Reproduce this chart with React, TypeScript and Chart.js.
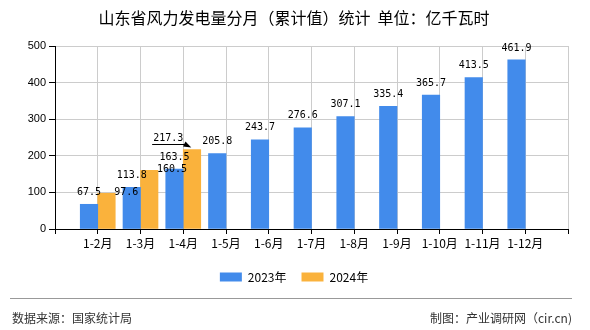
import React, { useEffect, useRef } from "react";
import { Chart, registerables } from "chart.js";

Chart.register(...registerables);

const titleText = "山东省风力发电量分月（累计值）统计  单位：亿千瓦时";
const sourceText = "数据来源：国家统计局";
const creditText = "制图：产业调研网（cir.cn)";

const categories = ["1-2月", "1-3月", "1-4月", "1-5月", "1-6月", "1-7月", "1-8月", "1-9月", "1-10月", "1-11月", "1-12月"];
const seriesNames = ["2023年", "2024年"];
const values2023 = [67.5, 113.8, 163.5, 205.8, 243.7, 276.6, 307.1, 335.4, 365.7, 413.5, 461.9];
const values2024 = [97.6, 160.5, 217.3];
const yTicks = [0, 100, 200, 300, 400, 500];

// label placement per point (style only)
const labelPlacement2023 = values2023.map(() => "top");
const labelPlacement2024 = ["right", "right", "leader"];

const BLUE = "#428BEB";
const ORANGE = "#FAB23C";

// axis has one empty slot on each side; categories sit on the slot boundaries
const axisLabels = ["", ...categories, ""];
const pad = (arr: number[]) => [null, ...arr, ...Array(categories.length + 1 - arr.length).fill(null)];

const barLabelPlugin = {
  id: "barLabels",
  afterDatasetsDraw(chart: any) {
    const ctx = chart.ctx;
    ctx.save();
    ctx.font = "10px 'DejaVu Sans Mono'";
    ctx.fillStyle = "#000";
    ctx.strokeStyle = "#000";
    ctx.textBaseline = "middle";
    chart.data.datasets.forEach((ds: any, di: number) => {
      const meta = chart.getDatasetMeta(di);
      const placements = di === 0 ? labelPlacement2023 : labelPlacement2024;
      meta.data.forEach((el: any, i: number) => {
        const v = ds.data[i];
        if (v == null) return;
        const p = placements[i - 1];
        const text = Number(v).toFixed(1);
        const { x, y, width } = el.getProps(["x", "y", "width"], true);
        const left = x - width / 2;
        const right = x + width / 2;
        if (p === "top") {
          ctx.textAlign = "center";
          ctx.fillText(text, x, y - 12);
        } else if (p === "right") {
          ctx.textAlign = "left";
          ctx.fillText(text, right - 1, y - 1);
        } else if (p === "leader") {
          ctx.textAlign = "right";
          const tw = ctx.measureText(text).width;
          const ty = y - 11;
          ctx.fillText(text, left, ty);
          const ly = Math.round(ty + 6) + 0.5;
          ctx.lineWidth = 1;
          ctx.beginPath();
          ctx.moveTo(left - tw - 1, ly);
          ctx.lineTo(left + 2, ly);
          ctx.stroke();
          // arrow head
          const tx = left + 8, tyy = y - 2;
          const bx = left + 1, by = ly - 0.5;
          const dx = tx - bx, dy = tyy - by;
          const len = Math.hypot(dx, dy);
          const nx = (-dy / len) * 2.8, ny = (dx / len) * 2.8;
          ctx.beginPath();
          ctx.moveTo(tx, tyy);
          ctx.lineTo(bx + nx, by + ny);
          ctx.lineTo(bx - nx, by - ny);
          ctx.closePath();
          ctx.fill();
        }
      });
    });
    ctx.restore();
  },
};

const footerPlugin = {
  id: "footer",
  afterDraw(chart: any) {
    const ctx = chart.ctx;
    ctx.save();
    ctx.strokeStyle = "#999";
    ctx.lineWidth = 1;
    ctx.beginPath();
    ctx.moveTo(10, 298.5);
    ctx.lineTo(572, 298.5);
    ctx.stroke();
    ctx.font = "12px 'Noto Sans CJK SC'";
    ctx.fillStyle = "#333";
    ctx.textBaseline = "middle";
    ctx.textAlign = "left";
    ctx.fillText(sourceText, 12, 318);
    ctx.textAlign = "right";
    ctx.fillText(creditText, 572, 318);
    ctx.restore();
  },
};

export default function App() {
  const ref = useRef<HTMLCanvasElement | null>(null);
  useEffect(() => {
    if (!ref.current) return;
    const chart = new Chart(ref.current, {
      type: "bar",
      data: {
        labels: axisLabels,
        datasets: [
          { label: seriesNames[0], data: pad(values2023), backgroundColor: BLUE, borderWidth: 0, barThickness: 17.5 },
          { label: seriesNames[1], data: pad(values2024), backgroundColor: ORANGE, borderWidth: 0, barThickness: 17.5 },
        ],
      },
      options: {
        responsive: false,
        animation: false,
        layout: { padding: { top: 0, left: 20, right: 22, bottom: 37 } },
        scales: {
          x: {
            type: "category",
            offset: false,
            grid: { offset: false, color: "#cccccc", tickColor: "#000", tickLength: 5, lineWidth: 1 },
            border: { color: "#000", width: 1 },
            ticks: {
              autoSkip: false,
              maxRotation: 0,
              padding: 2,
              color: "#000",
              font: { family: "'Noto Sans CJK SC'", size: 12 },
            },
            afterFit: (s: any) => { s.height = 27; },
          },
          y: {
            min: 0,
            max: 500,
            grid: { color: "#cccccc", tickColor: "#000", tickLength: 6, lineWidth: 1 },
            border: { color: "#000", width: 1 },
            ticks: {
              padding: 3,
              color: "#000",
              font: { family: "'Liberation Sans'", size: 11 },
            },
            afterBuildTicks: (s: any) => { s.ticks = yTicks.map((v) => ({ value: v })); },
            afterFit: (s: any) => { s.width = 35; },
          },
        },
        plugins: {
          title: {
            display: true,
            text: titleText,
            color: "#000",
            font: { family: "'Noto Sans CJK SC'", size: 16, weight: "normal" },
            padding: { top: 8, bottom: 18.8 },
          },
          legend: {
            position: "bottom",
            labels: {
              boxWidth: 22,
              boxHeight: 9,
              padding: 15,
              color: "#000",
              font: { family: "'Noto Sans CJK SC'", size: 12 },
            },
          },
          tooltip: { enabled: false },
        },
      },
      plugins: [barLabelPlugin, footerPlugin],
    } as any);
    return () => chart.destroy();
  }, []);
  return (
    <div style={{ position: "fixed", left: 0, top: 0, width: 590, height: 330, background: "#fff" }}>
      <canvas ref={ref} width={590} height={330} />
    </div>
  );
}
